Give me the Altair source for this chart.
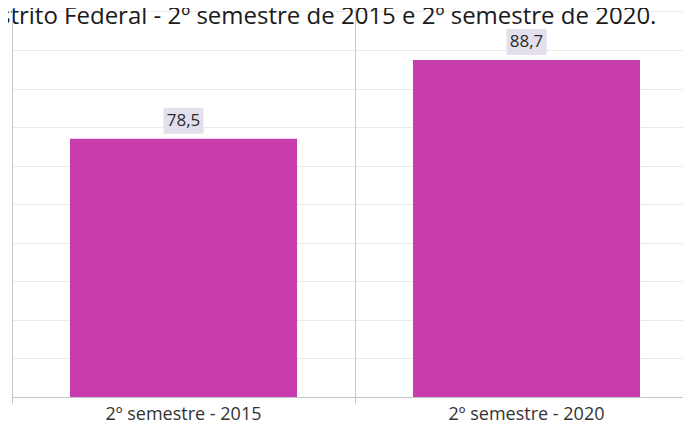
import altair as alt
import pandas as pd

categories = ["2º semestre - 2015", "2º semestre - 2020"]
values = [78.5, 88.7]
value_labels = ["78,5", "88,7"]
title_text = "strito Federal - 2º semestre de 2015 e 2º semestre de 2020."

FONT = "Open Sans"
BAR = "#C83DAC"

df = pd.DataFrame({"cat": categories, "val": values, "lab": value_labels})
tdf = pd.DataFrame({"t": [title_text]})

xscale = alt.Scale(range=[0, 686], paddingInner=0, paddingOuter=0)

x_main = alt.X(
    "cat:N",
    sort=categories,
    title=None,
    scale=xscale,
    axis=alt.Axis(
        orient="bottom",
        labelAngle=0,
        labelFont=FONT,
        labelFontSize=18,
        labelColor="#333333",
        labelPadding=8,
        ticks=False,
        domainColor="#c4c4c4",
        grid=False,
    ),
)
x_grid = alt.X(
    "cat:N",
    sort=categories,
    title=None,
    scale=xscale,
    axis=alt.Axis(
        orient="bottom",
        labels=False,
        domain=False,
        bandPosition=0,
        ticks=True,
        tickSize=6,
        tickColor="#c4c4c4",
        grid=True,
        gridColor="#c8c8c8",
        gridWidth=1,
    ),
)
y = alt.Y(
    "val:Q",
    title=None,
    scale=alt.Scale(domain=[45, 95.45], zero=False, nice=False),
    axis=alt.Axis(
        labels=False,
        ticks=False,
        domain=False,
        values=[45, 50, 55, 60, 65, 70, 75, 80, 85, 90, 95],
        gridColor="#ebebeb",
        gridWidth=1,
    ),
)

base = alt.Chart(df)
bars = base.mark_bar(color=BAR, clip=True, width=alt.RelativeBandSize(0.662)).encode(
    x=x_main, y=y
)
boxes = base.mark_rect(
    color="#E4DFEC",
    width=40,
    height=26,
    yOffset=-18,
).encode(x=x_grid, y=y)
texts = base.mark_text(
    font=FONT, fontSize=17, color="#2b2b2b", baseline="middle", yOffset=-18
).encode(x=alt.X("cat:N", sort=categories, axis=None), y=y, text="lab:N")
title = alt.Chart(tdf).mark_text(
    font=FONT, fontSize=24, color="#1a1a1a", align="left", baseline="alphabetic"
).encode(text="t:N", x=alt.value(-13), y=alt.value(16))

chart = (
    alt.layer(bars, boxes, texts, title)
    .resolve_axis(x="independent")
    .properties(
        width=671,
        height=389,
        autosize=alt.AutoSizeParams(type="none"),
        padding={"left": 4, "top": 0, "right": 0, "bottom": 24},
    )
    .configure_view(stroke=None)
)

chart.save("out.html", embed_options={"renderer": "svg", "actions": False})
